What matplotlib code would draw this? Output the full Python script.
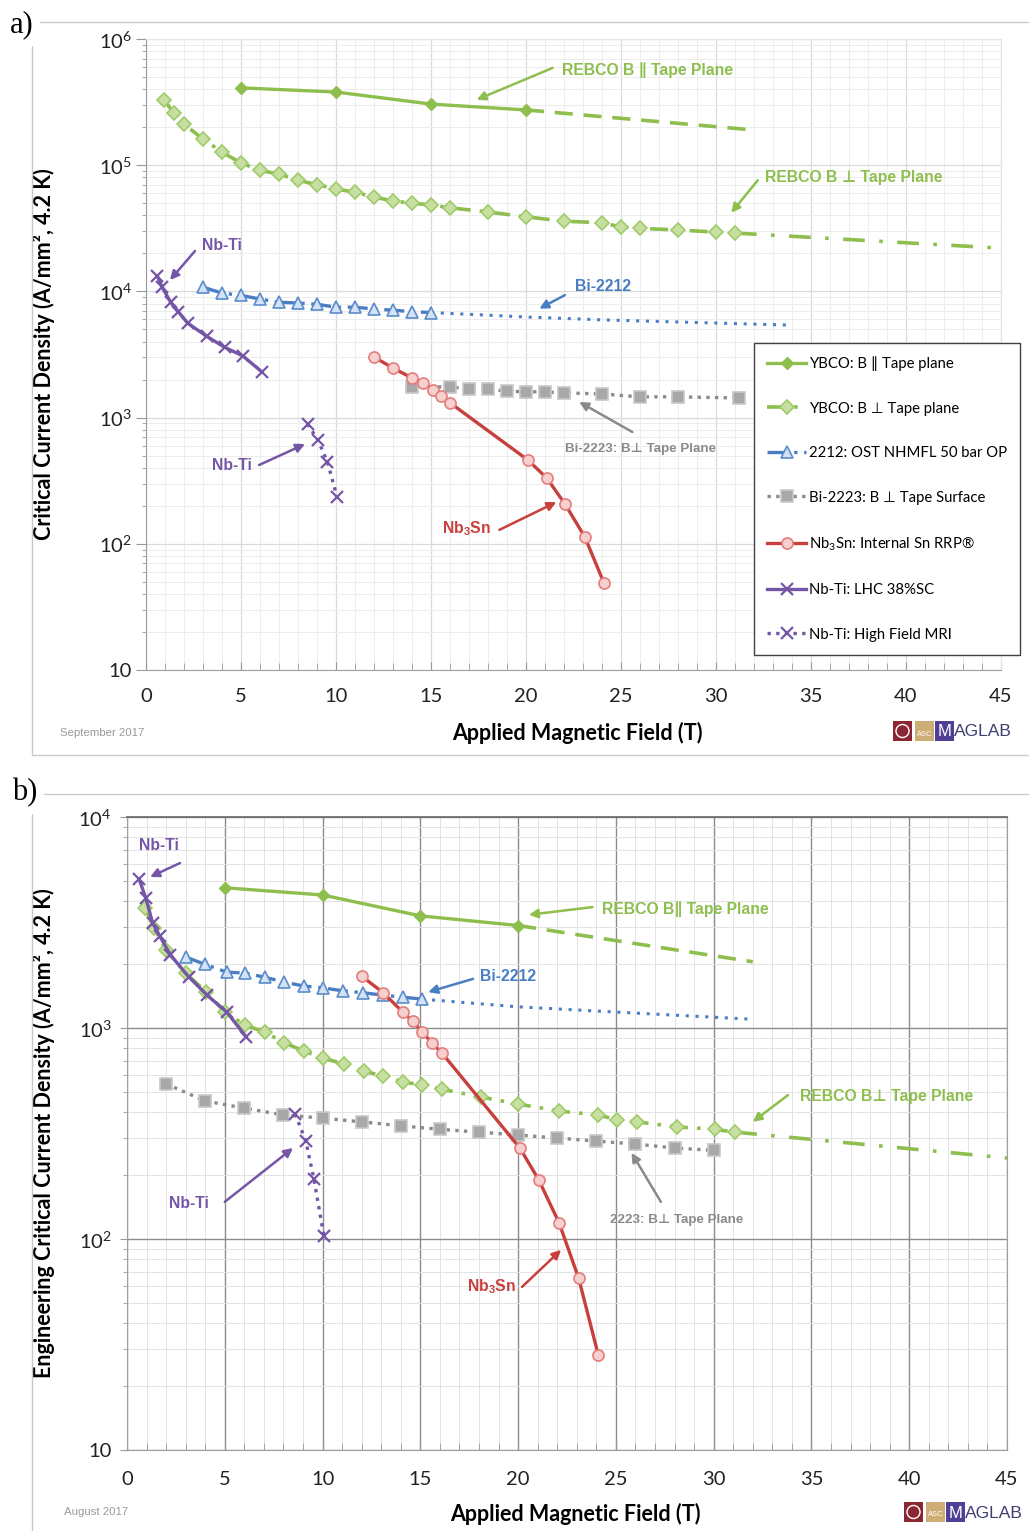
import matplotlib
matplotlib.use('Agg')
import matplotlib.pyplot as plt
from matplotlib.ticker import MultipleLocator, LogLocator, FuncFormatter, NullFormatter
from matplotlib.patches import Rectangle, Ellipse
import numpy as np

plt.rcParams['font.family'] = ['Lato', 'DejaVu Sans']
plt.rcParams['mathtext.fontset'] = 'custom'
plt.rcParams['mathtext.rm'] = 'Lato'
plt.rcParams['mathtext.bf'] = 'Liberation Sans:bold'

# ---------------- data, panel a) critical current density ----------------
ybco_par_x_a = [5, 10, 15, 20]
ybco_par_y_a = [4.1e5, 3.8e5, 3.05e5, 2.74e5]
ybco_par_ext_x_a = [20, 32]
ybco_par_ext_y_a = [2.74e5, 1.9e5]

ybco_perp_x_a = [0.95, 1.45, 2, 3, 4, 5, 6, 7, 8, 9, 10, 11, 12, 13, 14, 15, 16, 18,
                 20, 22, 24, 25, 26, 28, 30, 31]
ybco_perp_y_a = [3.3e5, 2.6e5, 2.12e5, 1.61e5, 1.27e5, 1.04e5, 9.1e4, 8.5e4, 7.6e4, 7.0e4,
                 6.5e4, 6.1e4, 5.6e4, 5.2e4, 5.0e4, 4.84e4, 4.6e4, 4.26e4,
                 3.9e4, 3.6e4, 3.5e4, 3.24e4, 3.16e4, 3.07e4, 2.95e4, 2.9e4]
ybco_perp_ext_x_a = [31, 45]
ybco_perp_ext_y_a = [2.9e4, 2.2e4]

bi2212_x_a = [3, 4, 5, 6, 7, 8, 9, 10, 11, 12, 13, 14, 15]
bi2212_y_a = [1.08e4, 9.7e3, 9.3e3, 8.7e3, 8.2e3, 8.1e3, 7.9e3, 7.5e3, 7.5e3, 7.25e3,
              7.1e3, 6.9e3, 6.8e3]
bi2212_ext_x_a = [15, 20, 24, 34]
bi2212_ext_y_a = [6.8e3, 6.27e3, 5.95e3, 5.4e3]

bi2223_x_a = [14, 16, 17, 18, 19, 20, 21, 22, 24, 26, 28, 31.2]
bi2223_y_a = [1.75e3, 1.75e3, 1.69e3, 1.68e3, 1.62e3, 1.6e3, 1.6e3, 1.57e3, 1.54e3,
              1.46e3, 1.46e3, 1.43e3]

nb3sn_x_a = [12, 13, 14, 14.6, 15.1, 15.55, 16, 20.1, 21.1, 22.05, 23.1, 24.1]
nb3sn_y_a = [3.02e3, 2.47e3, 2.06e3, 1.88e3, 1.66e3, 1.49e3, 1.31e3, 461, 331, 207, 113, 49]

nbti_lhc_x_a = [0.6, 0.85, 1.3, 1.7, 2.2, 3.2, 4.15, 5.1, 6.1]
nbti_lhc_y_a = [1.32e4, 1.08e4, 8.2e3, 6.9e3, 5.6e3, 4.4e3, 3.6e3, 3.08e3, 2.3e3]

nbti_mri_x_a = [8.5, 9.05, 9.55, 10.05]
nbti_mri_y_a = [890, 664, 445, 235]

# ---------------- data, panel b) engineering critical current density ----------------
ybco_par_x_b = [5, 10, 15, 20]
ybco_par_y_b = [4.62e3, 4.27e3, 3.4e3, 3.06e3]
ybco_par_ext_x_b = [20, 32]
ybco_par_ext_y_b = [3.06e3, 2.06e3]

ybco_perp_x_b = [0.92, 1.38, 2, 3, 4.05, 5, 6.05, 7.05, 8.05, 9.05, 10, 11.1, 12.1, 13.1,
                 14.1, 15.1, 16.1, 18.1, 20, 22.1, 24.1, 25.05, 26.1, 28.1, 30.05, 31.1]
ybco_perp_y_b = [3.7e3, 2.98e3, 2.34e3, 1.82e3, 1.48e3, 1.19e3, 1.03e3, 956, 850, 778,
                 720, 675, 625, 592, 555, 537, 513, 471, 436, 404, 387, 367, 359, 340, 331, 321]
ybco_perp_ext_x_b = [31.1, 45]
ybco_perp_ext_y_b = [321, 242]

bi2212_x_b = [3, 4, 5.1, 6.05, 7.05, 8.05, 9.05, 10, 11.05, 12.05, 13.1, 14.1, 15.1]
bi2212_y_b = [2.17e3, 2.0e3, 1.84e3, 1.82e3, 1.74e3, 1.65e3, 1.58e3, 1.55e3, 1.5e3,
              1.47e3, 1.43e3, 1.4e3, 1.37e3]
bi2212_ext_x_b = [15.1, 20, 25, 32]
bi2212_ext_y_b = [1.37e3, 1.26e3, 1.19e3, 1.1e3]

bi2223_x_b = [2, 4, 6, 8, 10, 12, 14, 16, 18, 20, 22, 24, 26, 28, 30]
bi2223_y_b = [543, 451, 417, 387, 374, 359, 344, 331, 321, 311, 301, 291, 282, 270, 263]

nb3sn_x_b = [12, 13.1, 14.1, 14.6, 15.1, 15.6, 16.1, 20.1, 21.05, 22.1, 23.1, 24.1]
nb3sn_y_b = [1.76e3, 1.47e3, 1.19e3, 1.08e3, 957, 849, 762, 269, 191, 119, 65, 28.2]

nbti_lhc_x_b = [0.62, 0.96, 1.31, 1.67, 2.22, 3.15, 4.1, 5.1, 6.1]
nbti_lhc_y_b = [5.08e3, 4.13e3, 3.15e3, 2.73e3, 2.22e3, 1.75e3, 1.43e3, 1.19e3, 906]

nbti_mri_x_b = [8.6, 9.14, 9.56, 10.07]
nbti_mri_y_b = [391, 292, 192, 103]

legend_labels = ['YBCO: B ∥ Tape plane', 'YBCO: B ⊥ Tape plane', '2212: OST NHMFL 50 bar OP',
                 'Bi-2223: B ⊥ Tape Surface', 'Nb$_3$Sn: Internal Sn RRP®', 'Nb-Ti: LHC 38%SC',
                 'Nb-Ti: High Field MRI']

# colours
green = '#8DBE4E'
blue = '#4A7EC2'
red = '#C8403E'
purple = '#7556A6'
gray = '#8A8A8A'

W, H = 1029, 1531
fig = plt.figure(figsize=(W / 100, H / 100), dpi=100)

ax1 = fig.add_axes([146 / W, 1 - 670 / H, 855 / W, 631 / H])
ax2 = fig.add_axes([127 / W, 1 - 1450 / H, 880 / W, 633 / H])


def draw_series(ax, d):
    lines = []
    l, = ax.plot(d['ybco_par'][0], d['ybco_par'][1], color=green, lw=2.4, marker='D', ms=6.5,
                 mfc=green, mec=green, zorder=5)
    lines.append(l)
    ax.plot(d['ybco_par_ext'][0], d['ybco_par_ext'][1], color=green, lw=2.6,
            ls=(0, (5, 3)), zorder=4)
    l, = ax.plot(d['ybco_perp'][0], d['ybco_perp'][1], color=green, lw=2.6, ls=(0, (5, 2.5, 1, 2.5)),
                 marker='D', ms=7.5, mfc='#C7E0A2', mec='#9FCB6B', mew=1.2, zorder=5)
    lines.append(l)
    ax.plot(d['ybco_perp_ext'][0], d['ybco_perp_ext'][1], color=green, lw=2.6,
            ls=(0, (6, 4, 1, 4)), zorder=4)
    l, = ax.plot(d['bi2212'][0], d['bi2212'][1], color=blue, lw=2.4, ls=(0, (6, 2, 1, 2)),
                 marker='^', ms=8.5, mfc='#D3E2F5', mec='#5A8CCB', mew=1.2, zorder=5)
    lines.append(l)
    ax.plot(d['bi2212_ext'][0], d['bi2212_ext'][1], color=blue, lw=2.2, ls=(0, (1, 2.2)), zorder=4)
    l, = ax.plot(d['bi2223'][0], d['bi2223'][1], color=gray, lw=2.4, ls=(0, (1, 1.6)),
                 marker='s', ms=8, mfc='#A8A8A8', mec='#C8C8C8', mew=1.2, zorder=5)
    lines.append(l)
    l, = ax.plot(d['nb3sn'][0], d['nb3sn'][1], color=red, lw=2.4, marker='o', ms=8,
                 mfc='#F6D0CF', mec='#E47E7C', mew=1.2, zorder=6)
    lines.append(l)
    l, = ax.plot(d['nbti_lhc'][0], d['nbti_lhc'][1], color=purple, lw=2.4, marker='x', ms=9,
                 mew=1.6, zorder=6)
    lines.append(l)
    l, = ax.plot(d['nbti_mri'][0], d['nbti_mri'][1], color=purple, lw=2.4, ls=(0, (1, 1.6)),
                 marker='x', ms=9, mew=1.6, zorder=6)
    lines.append(l)
    return lines


def y_fmt(v, pos):
    if v == 10:
        return '10'
    return '10$^{%d}$' % round(np.log10(v))


def style_axes(ax, ymax, major_grid, minor_grid, major_lw):
    ax.set_xlim(0, 45)
    ax.set_yscale('log')
    ax.set_ylim(10, ymax)
    ax.xaxis.set_major_locator(MultipleLocator(5))
    ax.xaxis.set_minor_locator(MultipleLocator(1))
    ax.yaxis.set_major_locator(LogLocator(base=10, numticks=10))
    ax.yaxis.set_minor_locator(LogLocator(base=10, subs=np.arange(2, 10), numticks=20))
    ax.yaxis.set_major_formatter(FuncFormatter(y_fmt))
    ax.yaxis.set_minor_formatter(NullFormatter())
    ax.grid(which='major', color=major_grid, lw=major_lw, zorder=0)
    ax.grid(which='minor', color=minor_grid, lw=0.7, zorder=0)
    ax.set_axisbelow(True)
    ax.tick_params(axis='both', which='major', labelsize=14.5, colors='#999999', labelcolor='#222222')
    ax.tick_params(axis='x', which='major', direction='in', length=6, pad=13)
    ax.tick_params(axis='x', which='minor', direction='in', length=5, colors='#999999')
    ax.tick_params(axis='y', which='major', direction='out', length=7, pad=3)
    ax.tick_params(axis='y', which='minor', direction='out', length=3, colors='#999999')
    ax.set_xlabel('Applied Magnetic Field (T)', fontsize=15.5, fontweight='bold')


# ---------------- panel a) ----------------
data_a = {
    'ybco_par': (ybco_par_x_a, ybco_par_y_a), 'ybco_par_ext': (ybco_par_ext_x_a, ybco_par_ext_y_a),
    'ybco_perp': (ybco_perp_x_a, ybco_perp_y_a), 'ybco_perp_ext': (ybco_perp_ext_x_a, ybco_perp_ext_y_a),
    'bi2212': (bi2212_x_a, bi2212_y_a), 'bi2212_ext': (bi2212_ext_x_a, bi2212_ext_y_a),
    'bi2223': (bi2223_x_a, bi2223_y_a), 'nb3sn': (nb3sn_x_a, nb3sn_y_a),
    'nbti_lhc': (nbti_lhc_x_a, nbti_lhc_y_a), 'nbti_mri': (nbti_mri_x_a, nbti_mri_y_a),
}
lines_a = draw_series(ax1, data_a)
style_axes(ax1, 1e6, '#DADADA', '#EDEDED', 0.9)
ax1.set_ylabel('Critical Current Density (A/mm², 4.2 K)', fontsize=15.5, fontweight='bold')
ax1.yaxis.set_label_coords(-0.106, 0.5)
ax1.xaxis.set_label_coords(0.505, -0.082)
ax1.spines['left'].set_color('#9A95B0')
ax1.spines['bottom'].set_color('#A0A0A0')
ax1.spines['top'].set_color('#E6E6E6')
ax1.spines['right'].set_color('#E6E6E6')

leg = ax1.legend(lines_a, legend_labels, loc='upper left', bbox_to_anchor=(754 / W, 1 - 343 / H),
                 bbox_transform=fig.transFigure, fontsize=10.7, frameon=True, fancybox=False,
                 edgecolor='#404040', framealpha=1, borderaxespad=0, borderpad=0.9,
                 labelspacing=2.05, handlelength=2.6, handletextpad=0.2, numpoints=1)
leg.get_frame().set_linewidth(1.0)
leg.set_zorder(20)

ann_font = ['Liberation Sans', 'DejaVu Sans']


def note(ax, text, txy, tail, head, color, size=11.3):
    ax.text(txy[0], txy[1], text, color=color, fontsize=size, fontweight='bold',
            family=ann_font, ha='left', va='center', zorder=15)
    ax.annotate('', xy=head, xytext=tail,
                arrowprops=dict(arrowstyle='-|>', color=color, lw=1.8, mutation_scale=13,
                                shrinkA=0, shrinkB=0), zorder=15)


note(ax1, 'REBCO B ∥ Tape Plane', (21.9, 5.68e5), (21.4, 5.9e5), (17.4, 3.3e5), green)
note(ax1, 'REBCO B ⊥ Tape Plane', (32.6, 8.05e4), (32.2, 7.6e4), (30.8, 4.2e4), green)
note(ax1, 'Bi-2212', (22.6, 1.1e4), (22.05, 9.35e3), (20.7, 7.3e3), blue)
note(ax1, 'Nb-Ti', (2.95, 2.29e4), (2.58, 2.09e4), (1.26, 1.23e4), purple)
note(ax1, 'Nb-Ti', (3.47, 414), (5.95, 421), (8.37, 617), purple)
note(ax1, 'Nb$_\\mathbf{3}$Sn', (15.6, 133), (18.6, 129), (21.6, 214), red)
note(ax1, 'Bi-2223: B⊥ Tape Plane', (22.05, 564), (25.6, 769), (22.8, 1.33e3), gray, size=9.6)

# ---------------- panel b) ----------------
data_b = {
    'ybco_par': (ybco_par_x_b, ybco_par_y_b), 'ybco_par_ext': (ybco_par_ext_x_b, ybco_par_ext_y_b),
    'ybco_perp': (ybco_perp_x_b, ybco_perp_y_b), 'ybco_perp_ext': (ybco_perp_ext_x_b, ybco_perp_ext_y_b),
    'bi2212': (bi2212_x_b, bi2212_y_b), 'bi2212_ext': (bi2212_ext_x_b, bi2212_ext_y_b),
    'bi2223': (bi2223_x_b, bi2223_y_b), 'nb3sn': (nb3sn_x_b, nb3sn_y_b),
    'nbti_lhc': (nbti_lhc_x_b, nbti_lhc_y_b), 'nbti_mri': (nbti_mri_x_b, nbti_mri_y_b),
}
draw_series(ax2, data_b)
style_axes(ax2, 1e4, '#8C8C8C', '#E3E3E3', 1.0)
ax2.tick_params(axis='x', which='major', pad=15)
ax2.tick_params(axis='y', which='major', length=5, pad=6)
ax2.set_ylabel('Engineering Critical Current Density (A/mm², 4.2 K)', fontsize=15.5, fontweight='bold')
ax2.yaxis.set_label_coords(-0.082, 0.5)
ax2.xaxis.set_label_coords(0.51, -0.083)
for s in ['left', 'bottom', 'right']:
    ax2.spines[s].set_color('#A0A0A0')
ax2.spines['top'].set_color('#707070')
ax2.spines['top'].set_linewidth(1.3)

note(ax2, 'Nb-Ti', (0.61, 7.36e3), (2.71, 6.05e3), (1.18, 5.2e3), purple)
note(ax2, 'REBCO B∥ Tape Plane', (24.3, 3.66e3), (23.8, 3.74e3), (20.55, 3.44e3), green)
note(ax2, 'Bi-2212', (18.05, 1.75e3), (17.7, 1.71e3), (15.4, 1.48e3), blue)
note(ax2, 'REBCO B⊥ Tape Plane', (34.4, 476), (33.8, 481), (32.0, 359), green)
note(ax2, '2223: B⊥ Tape Plane', (24.7, 123), (27.3, 150), (25.8, 256), gray, size=9.6)
note(ax2, 'Nb-Ti', (2.15, 148), (5.0, 150), (8.49, 270), purple)
note(ax2, 'Nb$_\\mathbf{3}$Sn', (17.4, 59.3), (20.2, 59.3), (22.2, 88.8), red)

# ---------------- frames, panel letters, dates, logos ----------------
fig.add_artist(Rectangle((32 / W, 1 - 755 / H), 1.0, 733 / H, transform=fig.transFigure,
                         fill=False, edgecolor='#C8C8C8', lw=1))
fig.add_artist(Rectangle((32 / W, -0.01), 1.0, 1 - 794 / H + 0.01, transform=fig.transFigure,
                         fill=False, edgecolor='#C8C8C8', lw=1))
fig.text(10 / W, 1 - 25 / H, 'a)', family='Liberation Serif', fontsize=22, va='center',
         backgroundcolor='white')
fig.text(12 / W, 1 - 793 / H, 'b)', family='Liberation Serif', fontsize=22, va='center',
         backgroundcolor='white')
fig.text(60 / W, 1 - 733 / H, 'September 2017', family=ann_font, fontsize=8.2, color='#999999',
         va='center')
fig.text(64 / W, 1 - 1512 / H, 'August 2017', family=ann_font, fontsize=8.2, color='#999999',
         va='center')


def draw_logo(px, py):
    # px, py: top-left of logo in pixels
    def box(x0, c):
        fig.add_artist(Rectangle((x0 / W, 1 - (py + 20) / H), 19 / W, 20 / H,
                                 transform=fig.transFigure, facecolor=c, edgecolor='none'))
    box(px, '#8B2635')
    fig.add_artist(Ellipse(((px + 9.5) / W, 1 - (py + 10) / H), 13 / W, 13 / H,
                           transform=fig.transFigure, facecolor='none', edgecolor='white', lw=1))
    box(px + 22, '#CDAE74')
    fig.text((px + 31.5) / W, 1 - (py + 13) / H, 'ASC', color='white', fontsize=5.5,
             family=ann_font, ha='center', va='center')
    box(px + 42, '#4F3F95')
    fig.text((px + 51.5) / W, 1 - (py + 11) / H, 'M', color='white', fontsize=12,
             family=ann_font, ha='center', va='center')
    fig.text((px + 61) / W, 1 - (py + 11) / H, 'AGLAB', color='#3E3E70', fontsize=12.5,
             family=ann_font, ha='left', va='center')


draw_logo(893, 721)
draw_logo(904, 1502)

fig.savefig('out.png', dpi=100)
